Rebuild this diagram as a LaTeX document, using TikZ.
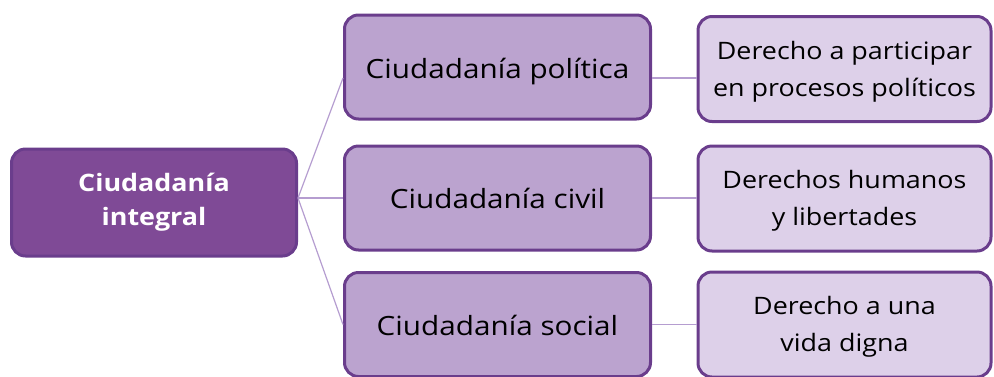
\documentclass[tikz,border=0pt]{standalone}
\usepackage{fontspec}
\setmainfont[FakeStretch=1.12]{Open Sans}
\definecolor{rootfill}{HTML}{7F4A96}
\definecolor{boxdraw}{HTML}{6A3D8C}
\definecolor{midfill}{HTML}{BBA3CF}
\definecolor{rightfill}{HTML}{DDD0E9}
\definecolor{linkc}{HTML}{B59DD0}
\newcommand{\lowerby}[2]{\raisebox{-#1}[\height][\depth]{#2}}
\begin{document}
\begin{tikzpicture}[x=1pt,y=-1pt,
  basebox/.style={draw=boxdraw, line width=3pt, rounded corners=14pt, align=center, inner sep=0pt},
  rootbox/.style={basebox, fill=rootfill, text=white, font=\fontsize{24}{34}\selectfont\bfseries, minimum width=285pt, minimum height=107pt},
  midbox/.style={basebox, fill=midfill, text=black, font=\fontsize{26.5}{32}\selectfont, minimum width=306pt, minimum height=104pt},
  rightbox/.style={basebox, fill=rightfill, text=black, font=\fontsize{24}{37}\selectfont, minimum width=293pt, minimum height=105pt},
  link/.style={draw=linkc, line width=1.2pt}]
\useasboundingbox (0,0) rectangle (994,376);
\node[rootbox] (root) at (154,202.5) {Ciudadanía\\integral};
\node[midbox] (m1) at (497.5,67) {\lowerby{5pt}{Ciudadanía política}};
\node[midbox] (m2) at (497.5,198) {Ciudadanía civil};
\node[midbox] (m3) at (497.5,324.5) {\lowerby{1pt}{Ciudadanía social}};
\node[rightbox] (r1) at (844.5,69) {\lowerby{3pt}{\parbox{280pt}{\centering Derecho a participar\\en procesos políticos}}};
\node[rightbox] (r2) at (844.5,198.5) {\lowerby{2pt}{\parbox{280pt}{\centering Derechos humanos\\y libertades}}};
\node[rightbox] (r3) at (844.5,324.5) {\lowerby{2pt}{\parbox{280pt}{\centering Derecho a una\\vida digna}}};
\coordinate (hub) at ([yshift=4.5pt]root.east);
\draw[link] (hub) -- ([yshift=-11pt]m1.west);
\draw[link] (hub) -- (m2.west);
\draw[link] (hub) -- (m3.west);
\draw[link] ([yshift=-11pt]m1.east) -- ([yshift=-11pt]m1.east -| r1.west);
\draw[link] (m2.east) -- (m2.east -| r2.west);
\draw[link] (m3.east) -- (m3.east -| r3.west);
\end{tikzpicture}
\end{document}
